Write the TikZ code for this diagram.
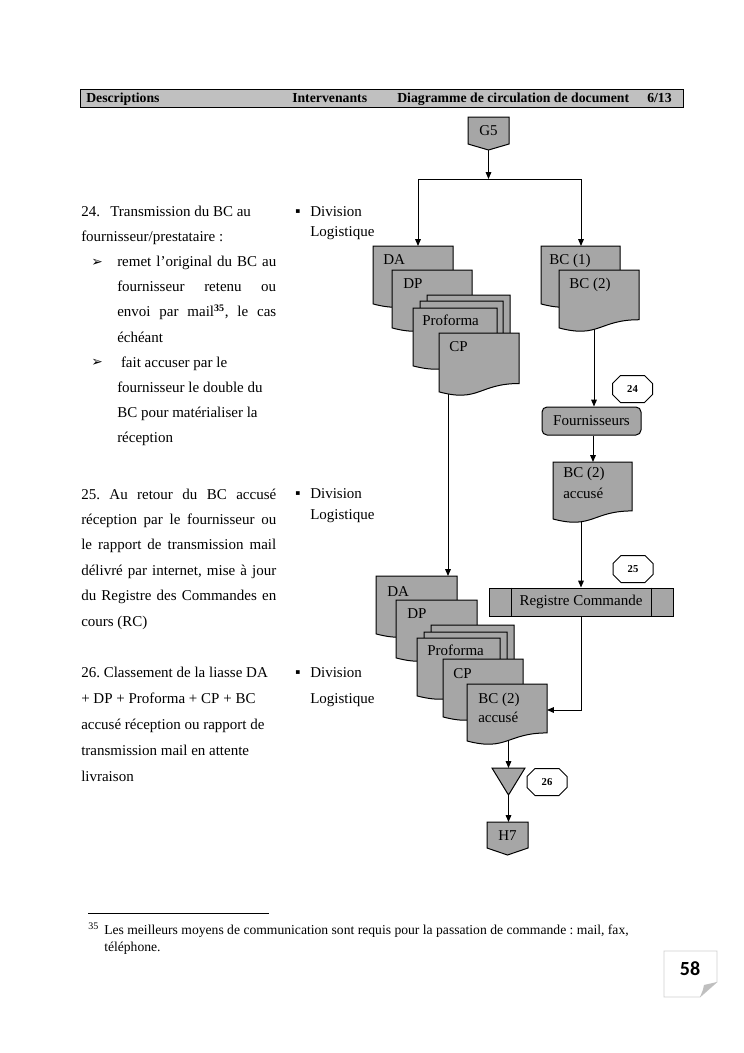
\documentclass[tikz,border=0pt]{standalone}
\usepackage{fontspec}
\setmainfont{Liberation Serif}
\newfontfamily\dejavu{DejaVu Sans}
\newfontfamily\carlito{Carlito}
\usetikzlibrary{arrows.meta}
\definecolor{shapegray}{HTML}{A6A6A6}
\definecolor{headgray}{HTML}{C0C0C0}
\definecolor{pagegray}{HTML}{CFCFCF}
\frenchspacing
\tikzset{
  shp/.style={draw=black, fill=shapegray, line width=0.8pt},
  conn/.style={line width=0.8pt},
  arr/.style={conn, -{Triangle[length=5.5pt,width=4.5pt]}},
  lbl/.style={inner sep=0pt, anchor=base west, font=\fontsize{12}{14}\selectfont},
  ctext/.style={inner sep=0pt, font=\fontsize{12}{14}\selectfont},
  body/.style={inner sep=0pt, anchor=base west, font=\fontsize{12}{14}\selectfont},
  head/.style={inner sep=0pt, anchor=base west, font=\fontsize{11}{13}\selectfont\bfseries},
  octotext/.style={inner sep=0pt, font=\fontsize{8.5}{10}\selectfont\bfseries},
  foot/.style={inner sep=0pt, anchor=base west, font=\fontsize{10.9}{13}\selectfont},
  bulletarrow/.style={inner sep=0pt, anchor=west, font=\dejavu\fontsize{11}{12}\selectfont},
}
% document shape: x, y, w, h
\newcommand{\docshape}[4]{%
  \draw[shp] (#1,#2) -- (#1+#3,#2) -- (#1+#3,#2+0.802*#4)
    .. controls (#1+0.5*#3,#2+0.802*#4) and (#1+0.5*#3,#2+1.107*#4) .. (#1,#2+0.934*#4) -- cycle;}
% octagon: cx, cy, name, text
\newcommand{\octobox}[4]{%
  \draw[line width=0.8pt, fill=white] (#1-12,#2-13.5) -- (#1+12,#2-13.5) -- (#1+20,#2-5.5)
    -- (#1+20,#2+5.5) -- (#1+12,#2+13.5) -- (#1-12,#2+13.5) -- (#1-20,#2+5.5) -- (#1-20,#2-5.5) -- cycle;
  \node[octotext] (#3) at (#1,#2) {#4};}
% off-page connector: x1, x2, ytop, yside, ypoint
\newcommand{\offpage}[5]{%
  \draw[shp] (#1,#3) -- (#2,#3) -- (#2,#4) -- ({(#1+#2)/2},#5) -- (#1,#4) -- cycle;}
\begin{document}
\begin{tikzpicture}[x=0.8pt,y=-0.8pt]
\useasboundingbox (0,0) rectangle (744,1053);
\fill[white] (0,0) rectangle (744,1053);

% ---------- header ----------
\draw[fill=headgray, line width=0.8pt] (80,89) rectangle (683,107);
\node[head] (hdesc) at (86,102) {Descriptions};
\node[head] (hinter) at (292,102) {Intervenants};
\node[head] (hdiag) at (397,102) {Diagramme de circulation de document};
\node[head] (hpage) at (647,102) {6/13};

% ---------- coordinates ----------
\coordinate (g5b) at (488.5,150);
\coordinate (split) at (488.5,179);
\coordinate (splitL) at (418,179);
\coordinate (splitR) at (581,179);
\coordinate (da1t) at (418,246);
\coordinate (bc1t) at (581,246);
\coordinate (bc2b) at (594,322);
\coordinate (bcacct) at (593,462);
\coordinate (bcaccb) at (581,512);
\coordinate (cp1b) at (448,385);
\coordinate (da2t) at (448,576);
\coordinate (bcacc2r) at (547,710);
\coordinate (bcacc2b) at (508.5,738);
\coordinate (mergeT) at (508.5,768);
\coordinate (mergeB) at (508.5,795);
\coordinate (h7t) at (508.5,822);

% ---------- named box nodes ----------
\node[shp, rounded corners=4pt, minimum width=79.2pt, minimum height=22.4pt, inner sep=0pt,
      font=\fontsize{12}{14}\selectfont] (fourn) at (591.5,421) {Fournisseurs};
\node[shp, minimum width=147.2pt, minimum height=22.4pt, inner sep=0pt,
      font=\fontsize{12}{14}\selectfont] (reg) at (581,602) {Registre Commande};
\draw[line width=0.8pt] ([xshift=18.4pt]reg.north west) -- ([xshift=18.4pt]reg.south west);
\draw[line width=0.8pt] ([xshift=-17.6pt]reg.north east) -- ([xshift=-17.6pt]reg.south east);

% ---------- connectors ----------
\draw[arr] (g5b) -- (split);
\draw[conn] (splitL) -- (splitR);
\draw[arr] (splitL) -- (da1t);
\draw[arr] (splitR) -- (bc1t);
\draw[arr] (bc2b) -- (bc2b |- fourn.north);
\draw[arr] (bcacct |- fourn.south) -- (bcacct);
\draw[arr] (bcaccb) -- (reg.north);
\draw[arr] (cp1b) -- (da2t);
\draw[arr] (reg.south) -- (reg.south |- bcacc2r) -- (bcacc2r);
\draw[arr] (bcacc2b) -- (mergeT);
\draw[arr] (mergeB) -- (h7t);

% ---------- G5 / H7 ----------
\offpage{468}{509}{117}{144}{150}
\node[ctext] (g5) at (488.5,131) {G5};
\offpage{487}{528}{822}{848}{855}
\node[ctext] (h7) at (507.5,836) {H7};

% ---------- upper left stack ----------
\docshape{373}{246}{80}{62}
\node[lbl] (da1) at (383,264) {DA};
\docshape{392}{270}{80}{62}
\node[lbl] (dp1) at (403,288) {DP};
\docshape{427}{295}{83}{62}
\docshape{420}{301}{83}{62}
\docshape{413}{308}{84}{62}
\node[lbl] (pro1) at (422,325) {Proforma};
\docshape{439}{333}{80}{63}
\node[lbl] (cp1) at (449,351) {CP};

% ---------- right column ----------
\docshape{541}{246}{79}{62}
\node[lbl] (bc1) at (549,264) {BC (1)};
\docshape{559}{270}{80}{62}
\node[lbl] (bc2) at (569,288) {BC (2)};
\docshape{553}{462}{79}{61}
\node[lbl] (bcacc) at (563,477) {BC (2)};
\node[lbl] (bcacca) at (563,498) {accusé};

% ---------- lower stack ----------
\docshape{376}{576}{81}{62}
\node[lbl] (da2) at (387,596) {DA};
\docshape{396}{600}{81}{62}
\node[lbl] (dp2) at (407,618) {DP};
\docshape{431}{625}{83}{62}
\docshape{424}{632}{83}{62}
\docshape{417}{638}{83}{62}
\node[lbl] (pro2) at (427,655) {Proforma};
\docshape{443}{659}{80}{62}
\node[lbl] (cp2) at (453,678) {CP};
\docshape{467}{684}{80}{61}
\node[lbl] (bcacc2) at (478,703) {BC (2)};
\node[lbl] (bcacc2a) at (478,722) {accusé};

% ---------- merge triangle ----------
\draw[shp] (492,768) -- (525,768) -- (mergeB) -- cycle;

% ---------- octagons ----------
\octobox{632.5}{389}{o24}{24}
\octobox{633}{569}{o25}{25}
\octobox{547}{782}{o26}{26}

% ---------- descriptions ----------
\node[body] (d24a) at (81,216) {24.};
\node[body] (d24b) at (110,216) {Transmission du BC au};
\node[body] (d24c) at (81,241.2) {fournisseur/prestataire :};
\node[bulletarrow] (ar1) at (91,262.5) {➢};
\node[body] (d24d) at (117,266.4) {\makebox[127.2pt][s]{remet l’original du BC au}};
\node[body] (d24e) at (117,291.6) {\makebox[127.2pt][s]{fournisseur retenu ou}};
\node[body] (d24f) at (117,316.8) {\makebox[127.2pt][s]{envoi par mail\textsuperscript{\textbf{35}}, le cas}};
\node[body] (d24g) at (117,342) {échéant};
\node[bulletarrow] (ar2) at (91,363) {➢};
\node[body] (d24h) at (117,367.2) {\ fait accuser par le};
\node[body] (d24i) at (117,392.4) {fournisseur le double du};
\node[body] (d24j) at (117,417.6) {BC pour matérialiser la};
\node[body] (d24k) at (117,442.8) {réception};

\node[body] (d25a) at (81,499) {\makebox[156pt][s]{25. Au retour du BC accusé}};
\node[body] (d25b) at (81,524.4) {\makebox[156pt][s]{réception par le fournisseur ou}};
\node[body] (d25c) at (81,549.8) {\makebox[156pt][s]{le rapport de transmission mail}};
\node[body] (d25d) at (81,575.2) {\makebox[156pt][s]{délivré par internet, mise à jour}};
\node[body] (d25e) at (81,600.6) {\makebox[156pt][s]{du Registre des Commandes en}};
\node[body] (d25f) at (81,626) {cours (RC)};

\node[body] (d26a) at (81,677) {26. Classement de la liasse DA};
\node[body] (d26b) at (81,703.2) {+ DP + Proforma + CP + BC};
\node[body] (d26c) at (81,729.4) {accusé réception ou rapport de};
\node[body] (d26d) at (81,755.6) {transmission mail en attente};
\node[body] (d26e) at (81,781.8) {livraison};

% ---------- intervenants ----------
\foreach \yy/\yl/\nm in {216/236/i1, 498/519/i2, 677/703/i3}{
  \node[inner sep=0pt, font=\dejavu\fontsize{6}{7}\selectfont] (\nm b) at (298,\yy-4.5) {▪};
  \node[body] (\nm d) at (310,\yy) {Division};
  \node[body] (\nm l) at (310,\yl) {Logistique};
}

% ---------- footnote ----------
\draw[line width=0.6pt] (88,913) -- (269,913);
\node[inner sep=0pt, anchor=base west, font=\fontsize{8}{9}\selectfont] (fn35) at (88,929) {35};
\node[foot] (fn1) at (104,934) {Les meilleurs moyens de communication sont requis pour la passation de commande : mail, fax,};
\node[foot] (fn2) at (104,951) {téléphone.};

% ---------- page number ----------
\draw[draw=pagegray, line width=0.6pt, fill=white] (664,951) -- (717,951) -- (717,982) -- (700,997) -- (664,997) -- cycle;
\fill[pagegray!80!gray] (700,997) -- (717,982) .. controls (711,984) .. (704,985) .. controls (703,990) .. cycle;
\node[inner sep=0pt, font=\carlito\bfseries\fontsize{16}{18}\selectfont] (pnum) at (690,969) {58};
\end{tikzpicture}
\end{document}
